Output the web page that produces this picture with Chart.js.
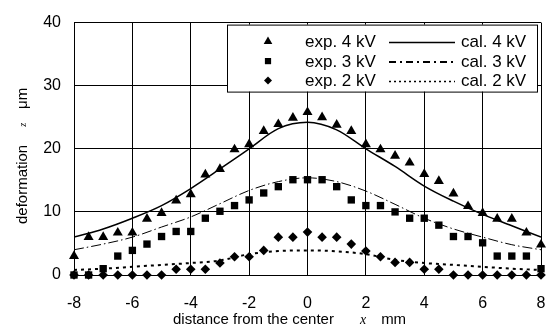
<!DOCTYPE html>
<html>
<head>
<meta charset="utf-8">
<title>deformation vs distance</title>
<script src="https://cdn.jsdelivr.net/npm/chart.js@4.4.1/dist/chart.umd.min.js"></script>
<style>
  html, body { margin: 0; padding: 0; background: #fff; }
  #wrap { width: 552px; height: 330px; }
</style>
</head>
<body>
<div id="wrap"><canvas id="myChart" width="552" height="330"></canvas></div>
<script>
'use strict';

// ******** DATA **********

let expX = [-8, -7.5, -7, -6.5, -6, -5.5, -5, -4.5, -4, -3.5, -3, -2.5, -2, -1.5, -1, -0.5, 0,
  0.5, 1, 1.5, 2, 2.5, 3, 3.5, 4, 4.5, 5, 5.5, 6, 6.5, 7, 7.5, 8];

let exp4kV = [3, 6, 6, 6.7, 6.7, 8.9, 9.8, 11.8, 12.8, 15.9, 16.8, 19.9, 20.7, 22.8, 23.9, 24.9, 25.8,
  25, 23.8, 22.8, 20.7, 19.9, 18.9, 17.8, 16, 14.9, 12.9, 10.9, 9.8, 8.9, 8.9, 6.7, 4.8];
let exp3kV = [0, 0, 1, 3, 3.9, 4.9, 6.1, 6.9, 6.9, 9, 10.1, 11, 11.9, 13, 14, 15.1, 15.1,
  15.1, 14, 11.9, 11, 11, 10, 9, 9, 7.9, 6.1, 6.1, 5.1, 3, 3, 3, 1];
let exp2kV = [0, 0, 0, 0, 0, 0, 0, 0.9, 0.9, 0.9, 1.9, 2.9, 2.9, 3.9, 6, 6, 6.8,
  6, 6, 4.9, 3.8, 2.9, 2, 2, 0.9, 0.9, 0, 0, 0, 0, 0, 0, 0];

let calX = [-8, -7, -6, -5, -4, -3, -2, -1, 0, 1, 2, 3, 4, 5, 6, 7, 8];
let cal4kV = [6, 7.3, 9, 11, 13.7, 16.8, 20, 23.2, 24.2, 23, 20, 17.2, 14.1, 11.7, 9.6, 7.8, 6];
let cal3kV = [4, 4.9, 6, 7.6, 9.2, 11.3, 13.4, 14.8, 15.4, 14.8, 13.3, 11.2, 9, 7.3, 6, 4.8, 4];
let cal2kV = [0.8, 1, 1.3, 1.6, 1.9, 2.3, 3.3, 3.8, 3.9, 3.75, 3.3, 2.4, 1.9, 1.6, 1.3, 1, 0.8];

let xTicks = [-8, -6, -4, -2, 0, 2, 4, 6, 8];
let yTicks = [0, 10, 20, 30, 40];

let expLabels = ['exp. 4 kV', 'exp. 3 kV', 'exp. 2 kV'];
let calLabels = ['cal. 4 kV', 'cal. 3 kV', 'cal. 2 kV'];

// ******** STYLE **********

let sans = "'Liberation Sans', Arial, sans-serif";
let serif = "'Liberation Serif', 'Times New Roman', serif";
let markerStyles = ['triangle', 'rect', 'rectRot'];
let markerSizes = [5.8, 5.2, 4.8];
let lineDashes = [[], [10, 3, 1.5, 3], [3, 4]];
let lineWidths = [1.5, 1, 2];
let legendDashes = [[], [7, 4, 2, 4], [2, 3]];
let legendWidths = [1.5, 2, 1.5];

// ********** HELPERS ***********

function toPoints(xs, ys) {
  let pts = [];
  for (let i = 0; i < xs.length; i++) {
    pts.push({ x: xs[i], y: ys[i] });
  }
  return pts;
}

function expDataset(label, values, i) {
  return {
    label: label,
    data: toPoints(expX, values),
    showLine: false,
    pointStyle: markerStyles[i],
    pointRadius: markerSizes[i],
    pointHoverRadius: markerSizes[i],
    pointBackgroundColor: '#000',
    pointBorderColor: '#000',
    pointBorderWidth: 0,
    clip: false,
    order: 0
  };
}

function calDataset(label, values, i) {
  return {
    label: label,
    data: toPoints(calX, values),
    borderColor: '#000',
    borderWidth: lineWidths[i],
    borderDash: lineDashes[i],
    pointRadius: 0,
    cubicInterpolationMode: 'monotone',
    fill: false,
    order: 1
  };
}

function drawMarker(ctx, style, r, x, y) {
  ctx.beginPath();
  if (style === 'triangle') {
    ctx.moveTo(x, y - r);
    ctx.lineTo(x + r * 0.866, y + r * 0.5);
    ctx.lineTo(x - r * 0.866, y + r * 0.5);
  } else if (style === 'rect') {
    let s = r * Math.SQRT1_2;
    ctx.rect(x - s, y - s, 2 * s, 2 * s);
  } else {
    ctx.moveTo(x - r, y);
    ctx.lineTo(x, y - r);
    ctx.lineTo(x + r, y);
    ctx.lineTo(x, y + r);
  }
  ctx.closePath();
  ctx.fill();
}

// ********** PLUGINS ***********

let boxLegend = {
  id: 'boxLegend',
  afterDatasetsDraw(chart) {
    let ctx = chart.ctx;
    let area = chart.chartArea;
    let left = area.right - 314;
    let top = area.top + 2;
    ctx.save();
    ctx.fillStyle = '#fff';
    ctx.fillRect(left, top, 310, 67);
    ctx.strokeStyle = '#000';
    ctx.lineWidth = 1;
    ctx.strokeRect(left + 0.5, top + 0.5, 310, 67);
    ctx.font = '17px ' + sans;
    ctx.textBaseline = 'middle';
    for (let i = 0; i < 3; i++) {
      let y = top + 17 + i * 19.5;
      ctx.fillStyle = '#000';
      drawMarker(ctx, markerStyles[i], markerSizes[i] - 0.8, left + 41, y);
      ctx.fillText(expLabels[i], left + 78, y + 1);
      ctx.fillText(calLabels[i], left + 234, y + 1);
      ctx.beginPath();
      ctx.setLineDash(legendDashes[i]);
      ctx.lineWidth = legendWidths[i];
      ctx.moveTo(left + 162, y + 1);
      ctx.lineTo(left + 228, y + 1);
      ctx.stroke();
      ctx.setLineDash([]);
    }
    ctx.restore();
  }
};

let axisTitles = {
  id: 'axisTitles',
  afterDraw(chart) {
    let ctx = chart.ctx;
    let area = chart.chartArea;
    ctx.save();
    ctx.fillStyle = '#000';
    ctx.textBaseline = 'alphabetic';

    // x title
    let x = area.left + 99;
    let base = 324;
    ctx.font = '15px ' + sans;
    ctx.fillText('distance from the center', x, base);
    x += ctx.measureText('distance from the center').width + 26;
    ctx.font = 'italic 14px ' + serif;
    ctx.fillText('x', x, base);
    x += ctx.measureText('x').width + 15;
    ctx.font = '15px ' + sans;
    ctx.fillText('mm', x, base);

    // y title, rotated
    ctx.translate(27, 0);
    ctx.rotate(-Math.PI / 2);
    let s = -224;
    ctx.font = '15px ' + sans;
    ctx.fillText('deformation', s, 0);
    s += ctx.measureText('deformation').width + 18;
    ctx.font = 'italic 10px ' + serif;
    ctx.fillText('z', s, -1);
    s += ctx.measureText('z').width + 14;
    ctx.font = '15px ' + sans;
    ctx.fillText('\u03bcm', s, 0);
    ctx.restore();
  }
};

// ********** CHART ***********

let ctx = document.getElementById('myChart').getContext('2d');

let myChartObj = {
  type: 'line',
  data: {
    datasets: [
      expDataset(expLabels[0], exp4kV, 0),
      expDataset(expLabels[1], exp3kV, 1),
      expDataset(expLabels[2], exp2kV, 2),
      calDataset(calLabels[0], cal4kV, 0),
      calDataset(calLabels[1], cal3kV, 1),
      calDataset(calLabels[2], cal2kV, 2)
    ]
  },
  options: {
    responsive: false,
    animation: false,
    layout: {
      padding: { top: 16, right: 0, left: 0, bottom: 0 }
    },
    plugins: {
      legend: { display: false },
      tooltip: { enabled: false }
    },
    scales: {
      x: {
        type: 'linear',
        min: xTicks[0],
        max: xTicks[xTicks.length - 1],
        afterBuildTicks: (scale) => { scale.ticks = xTicks.map(v => ({ value: v })); },
        afterFit: (scale) => {
          scale.height = 55;
          scale.paddingRight = 11;
        },
        grid: { color: '#000', lineWidth: 1, drawTicks: false },
        border: { color: '#000', width: 1 },
        ticks: { color: '#000', font: { family: sans, size: 16 }, padding: 19, maxRotation: 0 }
      },
      y: {
        min: yTicks[0],
        max: yTicks[yTicks.length - 1],
        afterBuildTicks: (scale) => { scale.ticks = yTicks.map(v => ({ value: v })); },
        afterFit: (scale) => { scale.width = 74; },
        grid: { color: '#000', lineWidth: 1, drawTicks: false },
        border: { color: '#000', width: 1 },
        ticks: { color: '#000', font: { family: sans, size: 16 }, padding: 13 }
      }
    }
  },
  plugins: [boxLegend, axisTitles]
};

new Chart(ctx, myChartObj);
</script>
</body>
</html>
